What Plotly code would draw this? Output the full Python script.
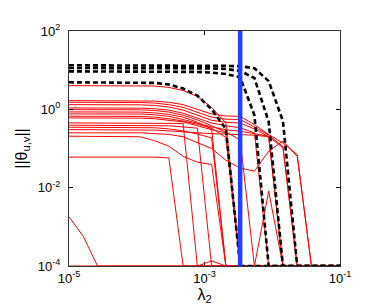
import plotly.graph_objects as go

# regularisation grid (lambda_2), 20 log-spaced values
LAMBDA = [1.000e-5, 1.624e-5, 2.637e-5, 4.281e-5, 6.952e-5, 1.129e-4, 1.833e-4,
          2.976e-4, 4.833e-4, 7.848e-4, 1.274e-3, 2.069e-3, 3.360e-3, 5.456e-3,
          8.859e-3, 1.438e-2, 2.336e-2, 3.793e-2, 6.158e-2, 1.000e-1]

F = -4.0  # floor of the plot (zero norm shown at 1e-4)

# red paths: log10 ||theta_uv||
red_01 = [0.605, 0.605, 0.605, 0.605, 0.605, 0.603, 0.595, 0.56, 0.48, 0.33, 0.05, -0.35, F, F, F, F, F, F, F, F]
red_02 = [0.222, 0.222, 0.222, 0.222, 0.222, 0.22, 0.21, 0.18, 0.12, 0.0, -0.12, -0.17, -0.18, -0.39, -0.645, -0.86, -1.155, F, F, F]
red_03 = [0.18, 0.18, 0.18, 0.18, 0.18, 0.175, 0.16, 0.12, 0.05, -0.08, -0.2, -0.25, -0.26, -0.45, -0.66, -0.95, F, F, F, F]
red_04 = [0.12, 0.12, 0.12, 0.12, 0.12, 0.115, 0.10, 0.06, -0.02, -0.15, -0.28, -0.33, -0.35, -0.50, -0.70, F, F, F, F, F]
red_05 = [0.036, 0.036, 0.036, 0.036, 0.036, 0.03, 0.015, -0.02, -0.1, -0.22, -0.35, -0.42, -0.47, -0.60, F, F, F, F, F, F]
red_06 = [-0.007, -0.007, -0.007, -0.007, -0.008, -0.012, -0.03, -0.07, -0.15, -0.27, -0.42, -0.58, -0.78, F, -2.09, F, F, F, F, F]
red_07 = [-0.066, -0.066, -0.066, -0.066, -0.067, -0.07, -0.09, -0.13, -0.2, -0.33, -0.5, F, F, F, F, F, F, F, F, F]
red_08 = [-0.117, -0.117, -0.117, -0.117, -0.118, -0.12, -0.14, -0.18, -0.26, -0.36, -0.45, -0.52, -0.56, -0.62, -0.69, F, F, F, F, F]
red_09 = [-0.176, -0.176, -0.176, -0.176, -0.177, -0.18, -0.2, -0.24, -0.3, -0.38, -0.48, -0.72, F, F, F, F, F, F, F, F]
red_10 = [-0.22, -0.22, -0.22, -0.22, -0.221, -0.225, -0.24, -0.28, -0.32, -0.42, -0.52, -0.6, F, F, F, F, F, F, F, F]
red_11 = [-0.347, -0.347, -0.347, -0.347, -0.347, -0.347, -0.348, -0.35, -0.36, F, F, F, F, F, F, F, F, F, F, F]
red_12 = [-0.406, -0.406, -0.406, -0.406, -0.407, -0.41, -0.415, -0.42, -0.45, -0.48, F, F, F, F, F, F, F, F, F, F]
red_13 = [-0.457, -0.457, -0.457, -0.457, -0.458, -0.46, -0.47, -0.5, -0.55, -0.63, -0.73, F, F, F, F, F, F, F, F, F]
red_14 = [-0.518, -0.518, -0.518, -0.518, -0.518, -0.52, -0.53, -0.55, -0.58, -0.6, -0.62, -0.64, -0.645, -0.66, -0.70, -0.98, F, F, F, F]
red_15 = [-0.60, -0.60, -0.60, -0.60, -0.60, -0.60, -0.62, -0.64, -0.7, -0.85, -1.0, -1.3, -1.5, -1.58, -1.07, -0.81, -1.2, F, F, F]
red_16 = [-0.686, -0.686, -0.686, -0.686, -0.69, -0.7, -0.8, -0.94, -1.2, -1.35, -1.41, F, F, F, F, F, F, F, F, F]
red_17 = [-1.22, -1.22, -1.22, -1.22, -1.22, -1.22, -1.22, -1.24, F, F, F, F, F, F, F, F, F, F, F, F]
red_18 = [-2.745, -3.24, F, F, F, F, F, F, F, F, F, F, F, F, F, F, F, F, F, F]
red_19 = [F, F, F, F, F, F, F, F, F, F, -3.87, F, F, F, F, F, F, F, F, F]

# black dashed paths
black_A = [1.125, 1.125, 1.125, 1.125, 1.125, 1.125, 1.124, 1.123, 1.122, 1.12, 1.117, 1.11, 1.10, 1.05, 0.72, -0.3, F, F, F, F]
black_B = [1.056, 1.056, 1.056, 1.056, 1.056, 1.056, 1.055, 1.054, 1.052, 1.05, 1.045, 1.03, 0.98, 0.80, -0.32, F, F, F, F, F]
black_C = [0.97, 0.97, 0.97, 0.97, 0.97, 0.97, 0.969, 0.967, 0.963, 0.955, 0.94, 0.90, 0.82, -0.15, F, F, F, F, F, F]
black_D = [0.69, 0.69, 0.69, 0.69, 0.69, 0.688, 0.675, 0.635, 0.53, 0.35, 0.0, -0.5, F, F, F, F, F, F, F, F]

BLUE_LAMBDA = 3.36e-3
Y_RANGE = [1e-4, 1e2]

red_paths = [red_01, red_02, red_03, red_04, red_05, red_06, red_07, red_08, red_09,
             red_10, red_11, red_12, red_13, red_14, red_15, red_16, red_17, red_18, red_19]
black_paths = [black_A, black_B, black_C, black_D]

fig = go.Figure()
for p in red_paths:
    fig.add_trace(go.Scatter(x=LAMBDA, y=[10 ** v for v in p], mode="lines",
                             line=dict(color="#ff0000", width=1), showlegend=False))
for p in black_paths:
    fig.add_trace(go.Scatter(x=LAMBDA, y=[10 ** v for v in p], mode="lines",
                             line=dict(color="black", width=2.6, dash="5px,3px"),
                             showlegend=False))
fig.add_trace(go.Scatter(x=[BLUE_LAMBDA, BLUE_LAMBDA], y=Y_RANGE, mode="lines",
                         line=dict(color="#2440ff", width=4.5), showlegend=False))

font = "Liberation Sans, Arial, Helvetica, sans-serif"
fig.update_layout(
    width=366, height=305,
    margin=dict(l=61, r=34, t=23, b=47),
    paper_bgcolor="white", plot_bgcolor="white",
    font=dict(family=font, size=13, color="black"),
    xaxis=dict(type="log", range=[-5, -1], tickvals=[1e-5, 1e-3, 1e-1],
               ticktext=["10<sup>-5</sup>", "10<sup>-3</sup>", "10<sup>-1</sup>"],
               ticks="inside", ticklen=4, tickcolor="black", showline=True,
               linecolor="#333333", linewidth=1, mirror="ticks", showgrid=False,
               zeroline=False, layer="below traces",
               title=dict(text="λ<sub>2</sub>", standoff=0)),
    yaxis=dict(type="log", range=[-4, 2], tickvals=[1e-4, 1e-2, 1e0, 1e2],
               ticktext=["10<sup>-4</sup>", "10<sup>-2</sup>", "10<sup>0</sup>", "10<sup>2</sup>"],
               ticks="inside", ticklen=4, tickcolor="black", showline=True,
               linecolor="#333333", linewidth=1, mirror="ticks", showgrid=False,
               zeroline=False, ticklabelstandoff=5,
               title=dict(text="||θ<sub>u,v</sub>||", standoff=6)),
)
fig.write_html("out.html")
